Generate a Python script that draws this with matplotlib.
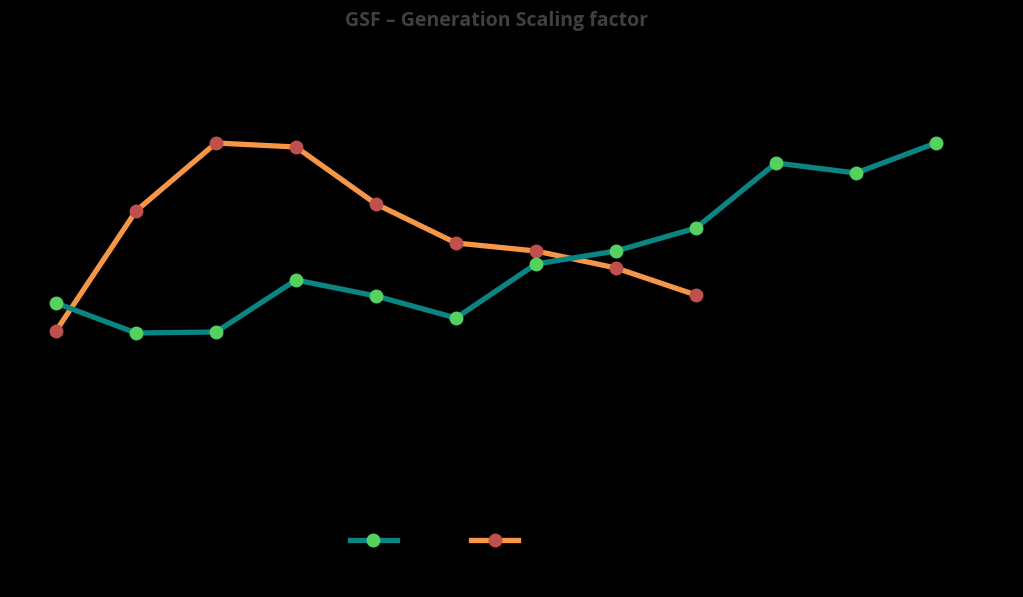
import numpy as np
import matplotlib
matplotlib.use("Agg")
import matplotlib.pyplot as plt

# GSF - generation scaling factor (arbitrary units)
months = ['Jan', 'Feb', 'Mar', 'Apr', 'May', 'Jun',
          'Jul', 'Aug', 'Sep', 'Oct', 'Nov', 'Dec']
gsf_this_year = [49.25, 41.75, 42.0, 55.0, 51.0, 45.5,
                 59.0, 62.25, 68.0, 84.25, 81.75, 89.25]
gsf_last_year = [42.25, 72.25, 89.25, 88.25, 74.0, 64.25, 62.25, 58.0, 51.25]
series_names = ['2013', '2012']

W, H = 1023, 597
fig = plt.figure(figsize=(W / 100, H / 100), dpi=100, facecolor='black')
ax = fig.add_axes([16 / W, (H - 500) / H, 960 / W, 440 / H])
ax.set_facecolor('black')

x = np.arange(len(months))
ax.plot(x, gsf_this_year, color='#0a8583', lw=3.8, marker='o', ms=9,
        mfc='#55d160', mec='#55d160', label=series_names[0], zorder=3)
ax.plot(x[:len(gsf_last_year)], gsf_last_year, color='#f79646', lw=3.8,
        marker='o', ms=9, mfc='#c0504d', mec='#c0504d',
        label=series_names[1], zorder=2)

ax.set_xlim(-0.5, len(months) - 0.5)
ax.set_ylim(0, 110)
ax.set_xticks(x)
ax.set_xticklabels(months, color='black')
ax.set_yticks([])
ax.tick_params(colors='black', length=0)
for s in ax.spines.values():
    s.set_visible(False)

fig.text(497 / W, 1 - 21 / H, 'GSF \u2013 Generation Scaling factor',
         ha='center', va='center', fontsize=14, fontweight='bold',
         color='#404040', family='Open Sans')

leg = fig.legend(loc='center', bbox_to_anchor=(457 / W, 1 - 541 / H), ncol=2,
                 frameon=False, handlelength=3.4, fontsize=10,
                 columnspacing=2.0)
for t in leg.get_texts():
    t.set_color('black')

fig.savefig('out.png', dpi=100, facecolor='black')
